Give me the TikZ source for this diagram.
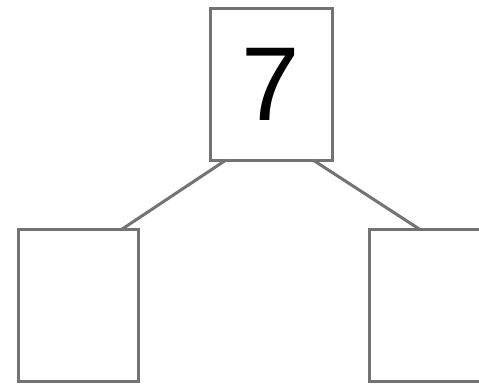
\documentclass[tikz,border=0pt]{standalone}
\usepackage{fontspec}
\setmainfont{Liberation Sans}
\usetikzlibrary{calc}
\definecolor{boxgray}{RGB}{115,115,115}
\tikzset{
  treebox/.style={draw=boxgray, line width=3pt, fill=white, minimum width=120pt, minimum height=152pt, inner sep=0pt, outer sep=0pt},
  edge/.style={draw=boxgray, line width=3pt}
}
\begin{document}
\begin{tikzpicture}[x=1pt,y=-1pt]
\useasboundingbox (0,0) rectangle (479,384);
\fill[white] (0,0) rectangle (479,384);
\node[treebox, minimum width=122pt, font=\fontsize{105}{105}\selectfont] (root) at (271,84) {7};
\node[treebox] (left) at (78.5,305.5) {};
\node[treebox] (right) at (429,305.5) {};
\draw[edge] ($(root.south west)+(16,0)$) -- ($(left.north west)+(103,0)$);
\draw[edge] ($(root.south east)+(-19,0)$) -- ($(right.north west)+(51,0)$);
\end{tikzpicture}
\end{document}
